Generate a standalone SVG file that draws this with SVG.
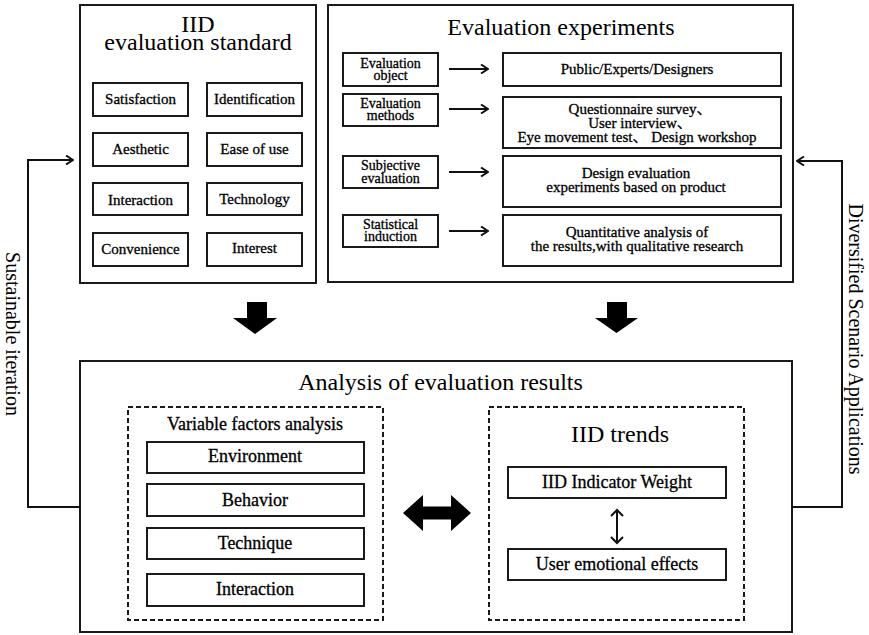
<svg xmlns="http://www.w3.org/2000/svg" width="869" height="635" viewBox="0 0 869 635">
<defs>
<style>
.t{font-family:"Liberation Serif","Noto Sans CJK SC",serif;fill:#000;text-anchor:middle}
.big{font-size:24px}
.lb{font-size:15px;stroke:#000;stroke-width:0.3}
.sm{font-size:14px;stroke:#000;stroke-width:0.3}
.md{font-size:18px;stroke:#000;stroke-width:0.3}
.side{font-size:20px}
.box{fill:#fff;stroke:#1a1a1a;stroke-width:2}
.ibox{fill:#fff;stroke:#1a1a1a;stroke-width:2}
.dash{fill:none;stroke:#1a1a1a;stroke-width:2;stroke-dasharray:5,3}
.ln{fill:none;stroke:#111;stroke-width:2}
.blk{fill:#000;stroke:none}
</style>
<marker id="open" viewBox="0 0 10 10" refX="9" refY="5" markerWidth="10" markerHeight="10" markerUnits="userSpaceOnUse" orient="auto">
<path d="M2,0.5 L9,5 L2,9.5" fill="none" stroke="#111" stroke-width="2"/>
</marker>
</defs>
<rect width="869" height="635" fill="#fff"/>

<g id="iid-standard">
<rect class="box" x="80" y="5" width="236" height="278"/>
<text class="t big" x="198" y="32">IID</text>
<text class="t big" x="198" y="50">evaluation standard</text>
</g>
<g id="satisfaction"><rect class="ibox" x="93" y="83" width="95" height="33"/><text class="t lb" x="140.5" y="104">Satisfaction</text></g>
<g id="identification"><rect class="ibox" x="207" y="83" width="95" height="33"/><text class="t lb" x="254.5" y="104">Identification</text></g>
<g id="aesthetic"><rect class="ibox" x="93" y="133" width="95" height="33"/><text class="t lb" x="140.5" y="154">Aesthetic</text></g>
<g id="ease-of-use"><rect class="ibox" x="207" y="133" width="95" height="33"/><text class="t lb" x="254.5" y="154">Ease of use</text></g>
<g id="interaction-std"><rect class="ibox" x="93" y="183" width="95" height="32"/><text class="t lb" x="140.5" y="205">Interaction</text></g>
<g id="technology"><rect class="ibox" x="207" y="183" width="95" height="32"/><text class="t lb" x="254.5" y="204">Technology</text></g>
<g id="convenience"><rect class="ibox" x="93" y="233" width="95" height="33"/><text class="t lb" x="140.5" y="254">Convenience</text></g>
<g id="interest"><rect class="ibox" x="207" y="233" width="95" height="33"/><text class="t lb" x="254.5" y="253">Interest</text></g>

<g id="evaluation-experiments">
<rect class="box" x="328" y="5" width="465" height="277"/>
<text class="t big" x="561" y="35">Evaluation experiments</text>
</g>
<g id="evaluation-object"><rect class="ibox" x="343" y="53" width="95" height="33"/><text class="t sm" x="390.5" y="67.5">Evaluation</text><text class="t sm" x="390.5" y="80">object</text></g>
<g id="evaluation-methods"><rect class="ibox" x="343" y="94" width="95" height="32"/><text class="t sm" x="390.5" y="108">Evaluation</text><text class="t sm" x="390.5" y="120">methods</text></g>
<g id="subjective-evaluation"><rect class="ibox" x="343" y="156" width="95" height="32"/><text class="t sm" x="390.5" y="170">Subjective</text><text class="t sm" x="390.5" y="183">evaluation</text></g>
<g id="statistical-induction"><rect class="ibox" x="343" y="215" width="95" height="32"/><text class="t sm" x="390.5" y="229">Statistical</text><text class="t sm" x="390.5" y="241">induction</text></g>
<g id="public-experts"><rect class="ibox" x="503" y="53" width="278" height="33"/><text class="t lb" x="637" y="74">Public/Experts/Designers</text></g>
<g id="methods-list"><rect class="ibox" x="503" y="97" width="278" height="51"/><text class="t lb" x="640" y="114">Questionnaire survey、</text><text class="t lb" x="640" y="128">User interview、</text><text class="t lb" x="637" y="142">Eye movement test、 Design workshop</text></g>
<g id="design-experiments"><rect class="ibox" x="503" y="156" width="278" height="51"/><text class="t lb" x="636" y="178">Design evaluation</text><text class="t lb" x="636" y="192">experiments based on product</text></g>
<g id="quantitative-analysis"><rect class="ibox" x="503" y="215" width="278" height="51"/><text class="t lb" x="637" y="237">Quantitative analysis of</text><text class="t lb" x="637" y="251">the results,with qualitative research</text></g>

<g id="analysis-results">
<rect class="box" x="80" y="361" width="712" height="271"/>
<text class="t big" x="440.5" y="390">Analysis of evaluation results</text>
</g>
<g id="variable-factors">
<rect class="dash" x="128" y="407" width="255" height="213"/>
<text class="t md" x="255" y="430">Variable factors analysis</text>
</g>
<g id="environment"><rect class="ibox" x="147" y="442" width="217" height="31"/><text class="t md" x="255" y="462">Environment</text></g>
<g id="behavior"><rect class="ibox" x="147" y="484" width="217" height="32"/><text class="t md" x="255" y="506">Behavior</text></g>
<g id="technique"><rect class="ibox" x="147" y="528" width="217" height="31"/><text class="t md" x="255" y="549">Technique</text></g>
<g id="interaction-var"><rect class="ibox" x="147" y="574" width="217" height="32"/><text class="t md" x="255" y="595">Interaction</text></g>
<g id="iid-trends">
<rect class="dash" x="489" y="407" width="255" height="213"/>
<text class="t big" x="620" y="442">IID trends</text>
</g>
<g id="indicator-weight"><rect class="ibox" x="508" y="467" width="218" height="31"/><text class="t md" x="617" y="488">IID Indicator Weight</text></g>
<g id="emotional-effects"><rect class="ibox" x="508" y="549" width="218" height="31"/><text class="t md" x="617" y="570">User emotional effects</text></g>

<g id="connectors">
<line class="ln" x1="449" y1="69" x2="488" y2="69" marker-end="url(#open)"/>
<line class="ln" x1="449" y1="109" x2="488" y2="109" marker-end="url(#open)"/>
<line class="ln" x1="449" y1="172" x2="488" y2="172" marker-end="url(#open)"/>
<line class="ln" x1="449" y1="231" x2="488" y2="231" marker-end="url(#open)"/>
<polygon class="blk" points="247,302 267,302 267,318 277,318 255,334 233,318 247,318"/>
<polygon class="blk" points="607,302 627,302 627,318 638,318 616.5,333 595,318 607,318"/>
<polygon class="blk" points="403,513 423,495 423,506.5 451,506.5 451,495 471,513 451,531 451,519.5 423,519.5 423,531"/>
<path class="ln" d="M617,510 L617,543 M611,516 L617,510 L623,516 M611,537 L617,543 L623,537"/>
<polyline class="ln" points="80,507 28,507 28,160 73,160" marker-end="url(#open)"/>
<polyline class="ln" points="792,507 842,507 842,161 797,161" marker-end="url(#open)"/>
</g>
<text class="t side" transform="translate(5.5,334) rotate(90)">Sustainable iteration</text>
<text class="t side" transform="translate(849,339) rotate(90)">Diversified Scenario Applications</text>
</svg>
